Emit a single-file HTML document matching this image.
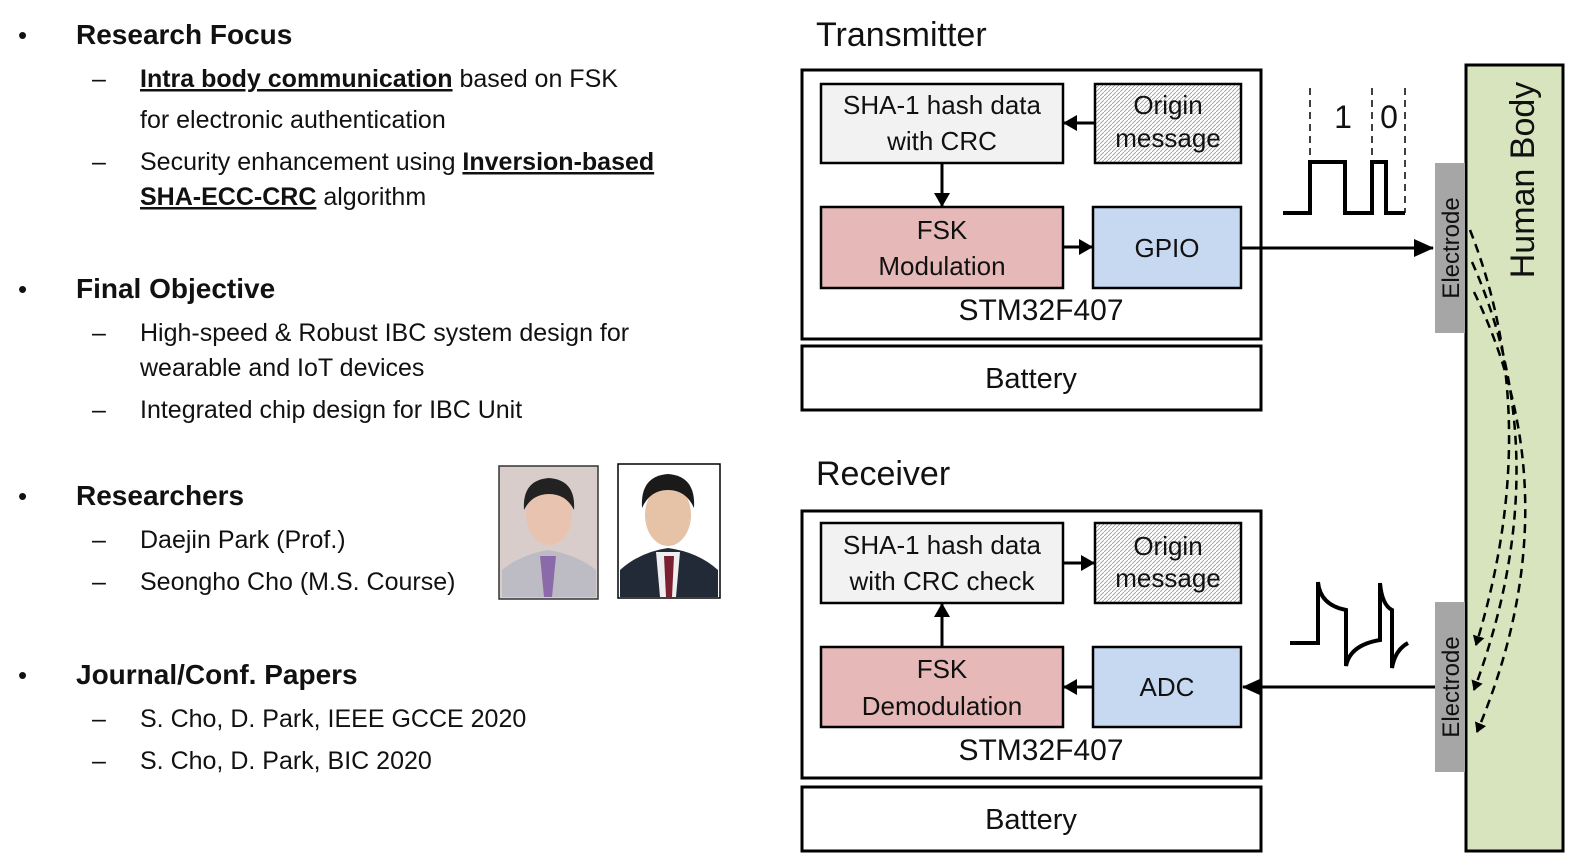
<!DOCTYPE html>
<html><head><meta charset="utf-8"><style>
html,body{margin:0;padding:0;background:#fff;overflow:hidden;width:1583px;height:867px;}
svg{display:block;}
text{font-family:"Liberation Sans",sans-serif;fill:#111;}
.b{font-weight:bold;}
.t{font-size:26px;}
.l{font-size:25px;}
</style></head><body>
<svg width="1583" height="867" viewBox="0 0 1583 867" xmlns="http://www.w3.org/2000/svg">
<defs>
<pattern id="h" width="4" height="4" patternUnits="userSpaceOnUse"><rect width="4" height="4" fill="#fff"/><path d="M0 4L4 0" stroke="#999" stroke-width="0.8"/></pattern>
<marker id="a" markerWidth="14" markerHeight="16" refX="13" refY="8" orient="auto" markerUnits="userSpaceOnUse"><path d="M0 0L14 8L0 16z" fill="#000"/></marker>
<marker id="s" markerWidth="10" markerHeight="12" refX="9" refY="6" orient="auto" markerUnits="userSpaceOnUse"><path d="M0 0L10 6L0 12z" fill="#000"/></marker>
<marker id="A" markerWidth="20" markerHeight="18" refX="19" refY="9" orient="auto" markerUnits="userSpaceOnUse"><path d="M0 0L20 9L0 18z" fill="#000"/></marker>
</defs>
<g class="l">
<text x="18" y="44" font-size="26">•</text>
<text x="76" y="44" class="b" font-size="28">Research Focus</text>
<text x="92" y="87">–</text>
<text x="140" y="87"><tspan class="b" text-decoration="underline">Intra body communication</tspan>  based on FSK</text>
<text x="140" y="128">for electronic authentication</text>
<text x="92" y="170">–</text>
<text x="140" y="170">Security enhancement using <tspan class="b" text-decoration="underline">Inversion-based</tspan></text>
<text x="140" y="205"><tspan class="b" text-decoration="underline">SHA-ECC-CRC</tspan> algorithm</text>
<text x="18" y="298" font-size="26">•</text>
<text x="76" y="298" class="b" font-size="28">Final Objective</text>
<text x="92" y="341">–</text>
<text x="140" y="341">High-speed &amp; Robust IBC system design for</text>
<text x="140" y="376">wearable and IoT devices</text>
<text x="92" y="418">–</text>
<text x="140" y="418">Integrated chip design for IBC Unit</text>
<text x="18" y="505" font-size="26">•</text>
<text x="76" y="505" class="b" font-size="28">Researchers</text>
<text x="92" y="548">–</text>
<text x="140" y="548">Daejin Park (Prof.)</text>
<text x="92" y="590">–</text>
<text x="140" y="590">Seongho Cho (M.S. Course)</text>
<text x="18" y="684" font-size="26">•</text>
<text x="76" y="684" class="b" font-size="28">Journal/Conf. Papers</text>
<text x="92" y="727">–</text>
<text x="140" y="727">S. Cho, D. Park, IEEE GCCE 2020</text>
<text x="92" y="769">–</text>
<text x="140" y="769">S. Cho, D. Park, BIC 2020</text>
</g>
<rect x="499" y="466" width="99" height="133" fill="#d8cdcb" stroke="#333" stroke-width="1.5"/>
<path d="M502 597L502 570Q520 555 548 550Q578 555 596 570L596 597z" fill="#bdbcc4"/>
<path d="M540 556L556 556L552 597L544 597z" fill="#8a6aa8"/>
<ellipse cx="549" cy="515" rx="23" ry="30" fill="#e8c4b0"/>
<path d="M524 510Q522 480 549 478Q576 480 574 510Q566 494 549 494Q532 494 524 510z" fill="#222"/>
<rect x="618" y="464" width="102" height="134" fill="#fff" stroke="#000" stroke-width="1.5"/>
<path d="M620 597L620 570Q640 552 668 548Q698 552 718 570L718 597z" fill="#222a38"/>
<path d="M656 552L680 552L676 597L660 597z" fill="#eee"/>
<path d="M664 556L674 556L672 597L666 597z" fill="#7a2030"/>
<ellipse cx="668" cy="515" rx="23" ry="31" fill="#e6c2a6"/>
<path d="M642 508Q640 476 668 474Q696 476 694 508Q686 490 668 490Q650 490 642 508z" fill="#1a1a1a"/>
<text x="816" y="46" font-size="34">Transmitter</text>
<rect x="802" y="70" width="459" height="269" fill="#fff" stroke="#000" stroke-width="3"/>
<rect x="821" y="84" width="242" height="79" fill="#f2f2f2" stroke="#000" stroke-width="2.5"/>
<text x="942" y="114" class="t" text-anchor="middle">SHA-1 hash data</text>
<text x="942" y="150" class="t" text-anchor="middle">with CRC</text>
<rect x="1095" y="84" width="146" height="79" fill="url(#h)" stroke="#000" stroke-width="2.5"/>
<text x="1168" y="114" class="t" text-anchor="middle">Origin</text>
<text x="1168" y="147" class="t" text-anchor="middle">message</text>
<line x1="1095" y1="123" x2="1064" y2="123" stroke="#000" stroke-width="3" marker-end="url(#a)"/>
<line x1="942" y1="163" x2="942" y2="206" stroke="#000" stroke-width="3" marker-end="url(#a)"/>
<rect x="821" y="207" width="242" height="81" fill="#e6b9b8" stroke="#000" stroke-width="2.5"/>
<text x="942" y="239" class="t" text-anchor="middle">FSK</text>
<text x="942" y="275" class="t" text-anchor="middle">Modulation</text>
<rect x="1093" y="207" width="148" height="81" fill="#c6d9f1" stroke="#000" stroke-width="2.5"/>
<text x="1167" y="257" class="t" text-anchor="middle">GPIO</text>
<line x1="1063" y1="247" x2="1092" y2="247" stroke="#000" stroke-width="3" marker-end="url(#a)"/>
<text x="1041" y="320" font-size="30" text-anchor="middle">STM32F407</text>
<rect x="802" y="346" width="459" height="64" fill="#fff" stroke="#000" stroke-width="3"/>
<text x="1031" y="388" font-size="29" text-anchor="middle">Battery</text>
<line x1="1241" y1="248" x2="1433" y2="248" stroke="#000" stroke-width="3" marker-end="url(#A)"/>
<text x="816" y="485" font-size="34">Receiver</text>
<rect x="802" y="511" width="459" height="267" fill="#fff" stroke="#000" stroke-width="3"/>
<rect x="821" y="523" width="242" height="80" fill="#f2f2f2" stroke="#000" stroke-width="2.5"/>
<text x="942" y="554" class="t" text-anchor="middle">SHA-1 hash data</text>
<text x="942" y="590" class="t" text-anchor="middle">with CRC check</text>
<rect x="1095" y="523" width="146" height="80" fill="url(#h)" stroke="#000" stroke-width="2.5"/>
<text x="1168" y="555" class="t" text-anchor="middle">Origin</text>
<text x="1168" y="587" class="t" text-anchor="middle">message</text>
<line x1="1063" y1="563" x2="1094" y2="563" stroke="#000" stroke-width="3" marker-end="url(#a)"/>
<line x1="942" y1="647" x2="942" y2="604" stroke="#000" stroke-width="3" marker-end="url(#a)"/>
<rect x="821" y="647" width="242" height="80" fill="#e6b9b8" stroke="#000" stroke-width="2.5"/>
<text x="942" y="678" class="t" text-anchor="middle">FSK</text>
<text x="942" y="715" class="t" text-anchor="middle">Demodulation</text>
<rect x="1093" y="647" width="148" height="80" fill="#c6d9f1" stroke="#000" stroke-width="2.5"/>
<text x="1167" y="696" class="t" text-anchor="middle">ADC</text>
<line x1="1093" y1="687" x2="1064" y2="687" stroke="#000" stroke-width="3" marker-end="url(#a)"/>
<text x="1041" y="760" font-size="30" text-anchor="middle">STM32F407</text>
<rect x="802" y="787" width="459" height="64" fill="#fff" stroke="#000" stroke-width="3"/>
<text x="1031" y="829" font-size="29" text-anchor="middle">Battery</text>
<line x1="1435" y1="687" x2="1243" y2="687" stroke="#000" stroke-width="3" marker-end="url(#A)"/>
<rect x="1466" y="65" width="97" height="786" fill="#d7e4bd" stroke="#000" stroke-width="3"/>
<text transform="translate(1534,180) rotate(-90)" font-size="34" text-anchor="middle">Human Body</text>
<rect x="1435" y="163" width="30" height="170" fill="#a6a6a6"/>
<text transform="translate(1459,248) rotate(-90)" font-size="24" text-anchor="middle">Electrode</text>
<rect x="1435" y="602" width="30" height="170" fill="#a6a6a6"/>
<text transform="translate(1459,687) rotate(-90)" font-size="24" text-anchor="middle">Electrode</text>
<g fill="none" stroke="#000" stroke-width="2.5" stroke-dasharray="9,6">
<path d="M1470 230Q1545 420 1476 645" marker-end="url(#s)"/>
<path d="M1472 262Q1560 460 1474 690" marker-end="url(#s)"/>
<path d="M1474 292Q1575 500 1477 732" marker-end="url(#s)"/>
</g>
<g stroke="#000" fill="none">
<path d="M1310 88V213M1372 88V213M1405 88V213" stroke-width="1.5" stroke-dasharray="7,5"/>
<path d="M1283 213H1310V162H1345V213H1372V162H1386V213H1405" stroke-width="4"/>
<path d="M1290 643H1318V582Q1320 605 1346 610V666Q1350 645 1380 640V583Q1382 605 1392 610V668Q1395 650 1408 643" stroke-width="4"/>
</g>
<text x="1343" y="128" font-size="32" text-anchor="middle">1</text>
<text x="1389" y="128" font-size="32" text-anchor="middle">0</text>
</svg>
</body></html>
